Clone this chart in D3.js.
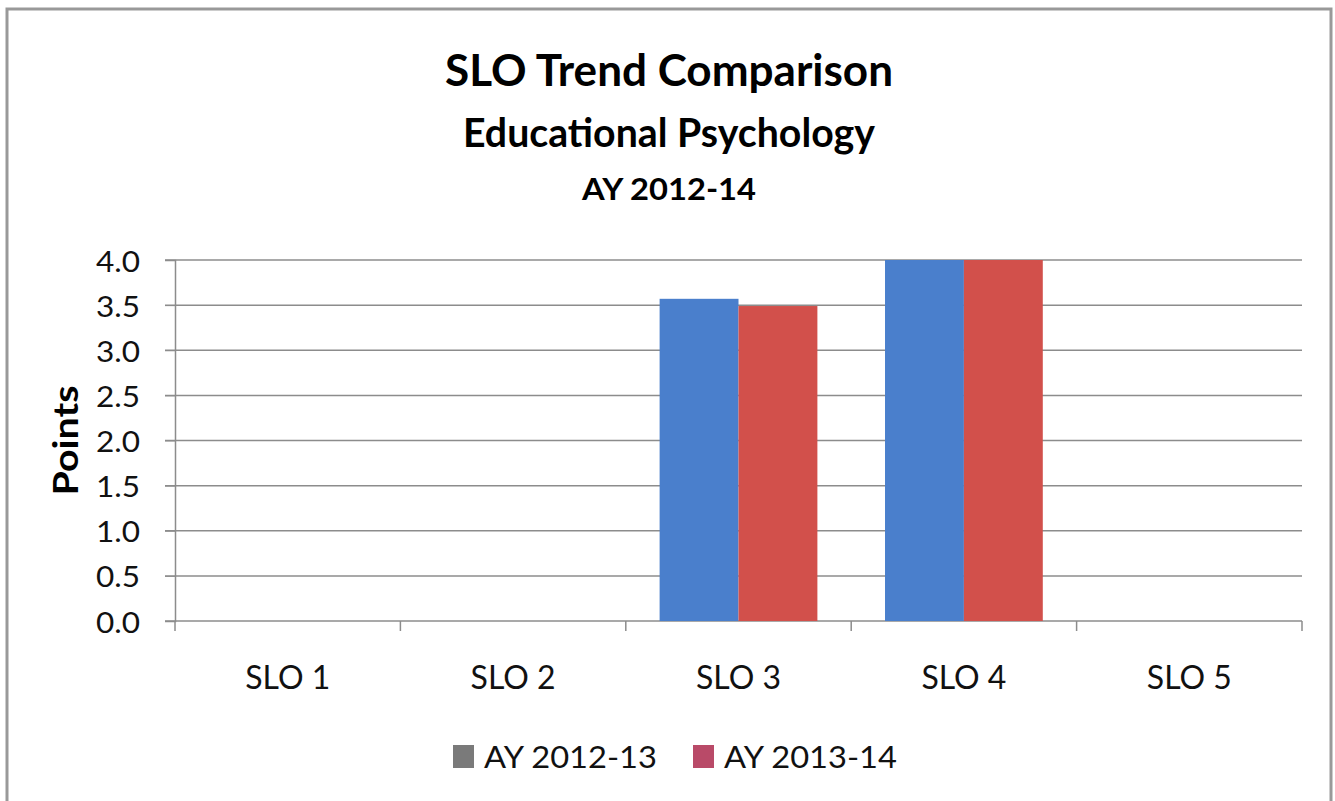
<!DOCTYPE html>
<html><head><meta charset="utf-8">
<script src="https://cdn.jsdelivr.net/npm/d3@7"></script>
<style>body{margin:0;background:#fff;}svg{display:block;font-family:Lato,"Open Sans",sans-serif;}</style>
</head><body><svg id="c" width="1335" height="801"></svg>
<script>
const categories = ["SLO 1","SLO 2","SLO 3","SLO 4","SLO 5"];
const seriesNames = ["AY 2012-13","AY 2013-14"];
const values2012 = [null,null,3.57,4.0,null];
const values2013 = [null,null,3.49,4.0,null];
const yTicks = [0,0.5,1.0,1.5,2.0,2.5,3.0,3.5,4.0];
const titles = ["SLO Trend Comparison","Educational Psychology","AY 2012-14"];
const barColors = ["#4a7fcc","#d2504b"];
const legendColors = ["#7a7a7a","#b94a68"];

const svg = d3.select("#c");
svg.append("rect").attr("x",7).attr("y",9).attr("width",1324).attr("height",800)
  .attr("fill","#fff").attr("stroke","#999").attr("stroke-width",3);

const L=175,R=1302,T=260,B=621;
const x = d3.scaleBand().domain(categories).range([L,R]).paddingInner(0.3).paddingOuter(0.15);
const xb = d3.scaleBand().domain(categories).range([L,R]);
const xs = d3.scaleBand().domain([0,1]).range([0,x.bandwidth()]);
const y = d3.scaleLinear().domain([0,4]).range([B,T]);

// gridlines
svg.append("g").selectAll("line").data(yTicks).join("line")
  .attr("x1",L-10).attr("x2",R).attr("y1",d=>y(d)).attr("y2",d=>y(d))
  .attr("stroke","#8c8c8c").attr("stroke-width",1.5);

// bars
const data = categories.map((c,i)=>({c,v:[values2012[i],values2013[i]]}));
const g = svg.append("g");
data.forEach(d=>{
  d.v.forEach((v,j)=>{
    if(v==null) return;
    g.append("rect").attr("x",x(d.c)+xs(j)).attr("width",xs.bandwidth())
      .attr("y",y(v)).attr("height",y(0)-y(v)).attr("fill",barColors[j]);
  });
});

// y axis
const ya = svg.append("g").attr("transform",`translate(${L},0)`)
  .call(d3.axisLeft(y).tickValues(yTicks).tickFormat(d3.format(".1f")).tickSize(10).tickPadding(25));
ya.select(".domain").attr("stroke","#8c8c8c").attr("stroke-width",1.5);
ya.selectAll(".tick line").attr("stroke","#8c8c8c");
ya.selectAll("text").attr("font-size",29).attr("fill","#111").attr("font-family","Lato,sans-serif")
  .attr("textLength",44).attr("lengthAdjust","spacingAndGlyphs").attr("dy","0.38em");

// x axis
const xa = svg.append("g").attr("transform",`translate(0,${B})`)
  .call(d3.axisBottom(xb).tickSize(0));
xa.select(".domain").remove();
xa.selectAll("text").attr("font-size",33).attr("fill","#111").attr("font-family","Lato,sans-serif")
  .attr("y",68).attr("dy",0).attr("textLength",85).attr("lengthAdjust","spacingAndGlyphs");
svg.append("g").selectAll("line").data(categories.concat(["end"])).join("line")
  .attr("x1",(d,i)=>i<5?xb(d):R).attr("x2",(d,i)=>i<5?xb(d):R)
  .attr("y1",B).attr("y2",B+10).attr("stroke","#8c8c8c").attr("stroke-width",1.5);

// y title
svg.append("text").attr("transform",`translate(78,${(T+B)/2}) rotate(-90)`)
  .attr("text-anchor","middle").attr("font-size",35).attr("font-weight","bold")
  .attr("textLength",110).attr("lengthAdjust","spacingAndGlyphs").text("Points");

// titles
const tSpec=[{y:86,fs:43,w:448},{y:147,fs:40,w:412},{y:200,fs:31,w:174}];
titles.forEach((t,i)=>{
  svg.append("text").attr("x",669).attr("y",tSpec[i].y).attr("text-anchor","middle")
    .attr("font-size",tSpec[i].fs).attr("font-weight","bold")
    .attr("textLength",tSpec[i].w).attr("lengthAdjust","spacingAndGlyphs").text(t);
});

// legend
const leg = svg.append("g");
const lx=[453,693];
seriesNames.forEach((s,i)=>{
  leg.append("rect").attr("x",lx[i]).attr("y",745).attr("width",21).attr("height",23).attr("fill",legendColors[i]);
  leg.append("text").attr("x",lx[i]+31).attr("y",768).attr("font-size",31).attr("fill","#111")
    .attr("textLength",173).attr("lengthAdjust","spacingAndGlyphs").text(s);
});
</script></body></html>
